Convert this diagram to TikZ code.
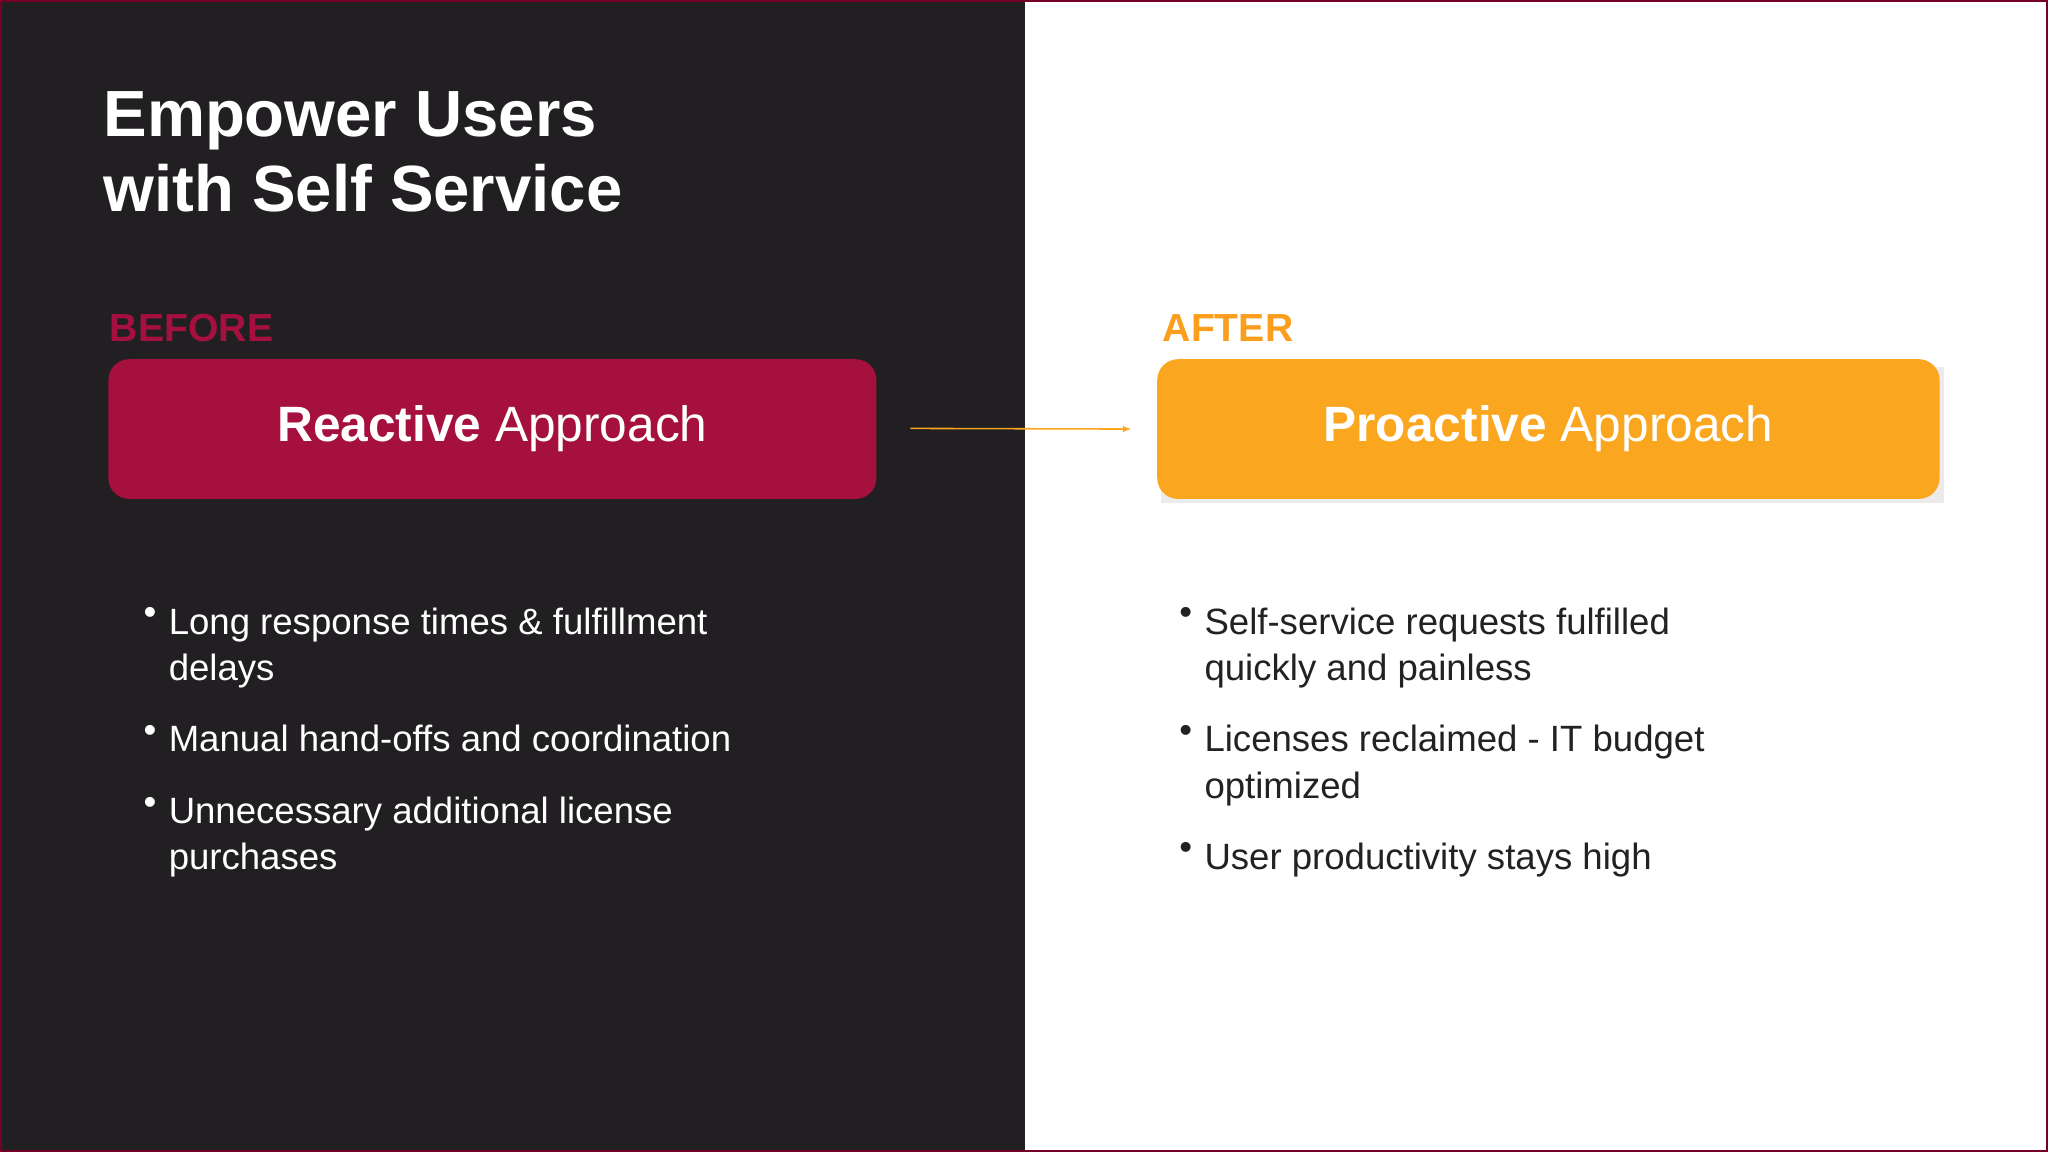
\documentclass[tikz,border=0pt]{standalone}
\usepackage{fontspec}
\setmainfont{Liberation Sans}
\begin{document}
\begin{tikzpicture}[x=1pt,y=-1pt,
  bul/.style={anchor=north west,align=left,inner sep=0pt,font=\fontsize{28}{35.5}\selectfont},
  hdr/.style={anchor=west,inner sep=0pt,font=\fontsize{30}{36}\selectfont\bfseries},
  box/.style={rounded corners=16pt,minimum width=#1,minimum height=107pt,inner sep=0pt,font=\fontsize{38}{44}\selectfont,text=white}]
\definecolor{dark}{HTML}{221F22}
\definecolor{crim}{HTML}{A6103F}
\definecolor{oran}{HTML}{FBA61F}
\definecolor{txt}{HTML}{222222}
\useasboundingbox (0,0) rectangle (1568,882);
\fill[dark] (0,0) rectangle (785,882);
\fill[white] (785,0) rectangle (1568,882);
\draw[color=purple!60!black,line width=1.2pt] (0.6,0.6) rectangle (1567.4,881.4);
\node[anchor=north west,align=left,inner sep=0pt,text=white,font=\fontsize{50}{57}\selectfont\bfseries] (title) at (79,70) {Empower Users\\with Self Service};
\node[hdr,text=crim] (before) at (84,251) {BEFORE};
\node[hdr,text=oran!95!red] (after) at (890,251) {AFTER};
\node[box=588pt,fill=crim] (react) at (377,328.5) {\textbf{Reactive} Approach};
\fill[black!8] (889,281) rectangle (1488,385);
\node[box=599pt,fill=oran] (proact) at (1185.5,328.5) {\textbf{Proactive} Approach};
\draw[oran,line width=1.2pt,-latex] (697,328) -- (proact.west-|866,328) coordinate (ae);
\foreach \y/\t [count=\i] in {465/{Long response times \& fulfillment\\delays},555/{Manual hand-offs and coordination},610/{Unnecessary additional license\\purchases}}{
  \node[bul,text=white] (l\i) at (129,\y) {\t};
  \node[bul,text=white,anchor=north east] (lb\i) at (120,\y) {•};
}
\foreach \y/\t [count=\i] in {465/{Self-service requests fulfilled\\quickly and painless},555/{Licenses reclaimed - IT budget\\optimized},645/{User productivity stays high}}{
  \node[bul,text=txt] (r\i) at (922,\y) {\t};
  \node[bul,text=txt,anchor=north east] (rb\i) at (913,\y) {•};
}
\end{tikzpicture}
\end{document}
